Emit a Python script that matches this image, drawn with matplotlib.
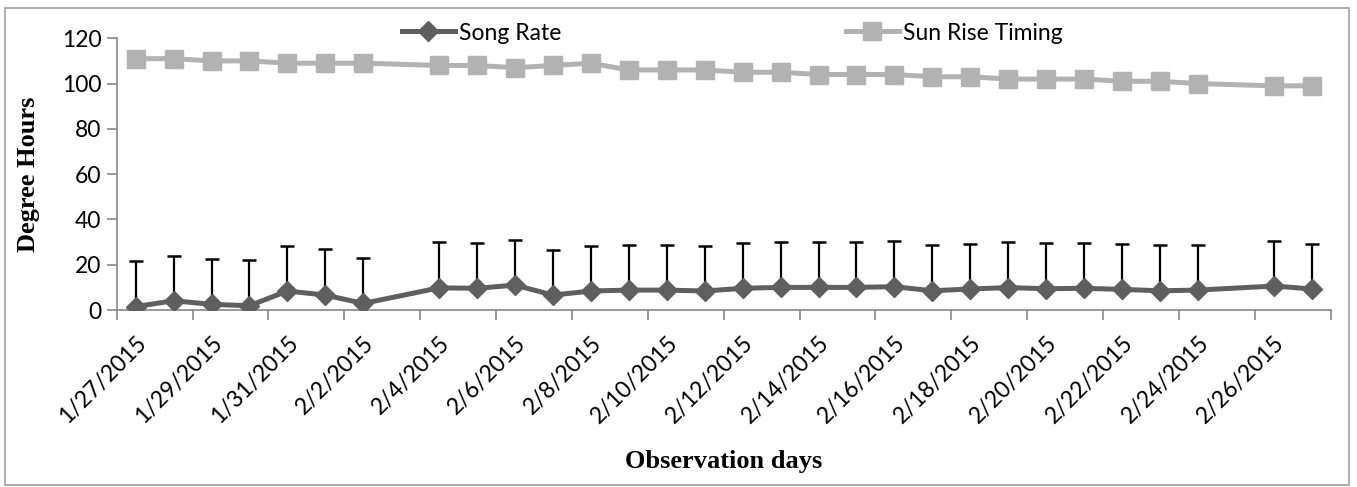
import numpy as np
import pandas as pd
import matplotlib
matplotlib.use("Agg")
import matplotlib.pyplot as plt
import matplotlib.dates as mdates
from matplotlib.patches import Rectangle

# gozlem gunleri (2/3 ve 2/25 yok)
days = ["2015-01-27", "2015-01-28", "2015-01-29", "2015-01-30", "2015-01-31",
        "2015-02-01", "2015-02-02", "2015-02-04", "2015-02-05", "2015-02-06",
        "2015-02-07", "2015-02-08", "2015-02-09", "2015-02-10", "2015-02-11",
        "2015-02-12", "2015-02-13", "2015-02-14", "2015-02-15", "2015-02-16",
        "2015-02-17", "2015-02-18", "2015-02-19", "2015-02-20", "2015-02-21",
        "2015-02-22", "2015-02-23", "2015-02-24", "2015-02-26", "2015-02-27"]
song_rate = [1.5, 4.1, 2.5, 1.9, 8.4, 6.6, 2.9, 9.8, 9.6, 11.0,
             6.6, 8.4, 8.8, 8.8, 8.4, 9.6, 10.0, 10.0, 10.0, 10.3,
             8.5, 9.3, 9.9, 9.4, 9.6, 9.1, 8.5, 8.8, 10.6, 9.3]
song_err = [20.1, 19.7, 19.9, 20.0, 20.0, 20.2, 19.9, 20.1, 20.0, 19.8,
            20.0, 19.7, 19.9, 19.9, 20.0, 20.0, 20.0, 20.0, 20.0, 20.0,
            20.0, 19.8, 20.0, 20.0, 20.0, 20.1, 20.2, 20.0, 19.7, 20.0]
sun_rise = [111, 111, 110, 110, 109, 109, 109, 108, 108, 107,
            108, 109, 106, 106, 106, 105, 105, 104, 104, 104,
            103, 103, 102, 102, 102, 101, 101, 100, 99, 99]
y_ticks = [0, 20, 40, 60, 80, 100, 120]

dates = pd.to_datetime(days)
half = pd.Timedelta(hours=12)

plt.rcParams['font.family'] = ['Lato', 'DejaVu Sans']

fig = plt.figure(figsize=(13.57, 4.87), dpi=100)
ax = fig.add_axes([0.086, 0.3634, 0.8946, 0.558])

axis_gray = "#878787"
song_color = "#5f5f5f"
sun_color = "#b2b2b2"

# hata cubuklari sadece yukari yonde
ax.errorbar(dates, song_rate, yerr=[np.zeros(len(song_err)), song_err], fmt='none',
            ecolor='black', elinewidth=1.6, capsize=5, capthick=1.8, zorder=2)
ax.plot(dates, song_rate, color=song_color, lw=3.6, marker='D', markersize=10,
        label="Song Rate", zorder=3)
ax.plot(dates, sun_rise, color=sun_color, lw=3.6, marker='s', markersize=13.5,
        label="Sun Rise Timing", zorder=3)

ax.set_ylim(0, 120)
ax.set_yticks(y_ticks)
ax.set_xlim(dates[0] - half, dates[-1] + half)

# etiketler her iki gunde bir, tik cizgileri gun sinirlarinda
ax.set_xticks(pd.date_range(dates[0], dates[-1], freq='2D'))
ax.xaxis.set_major_formatter(mdates.DateFormatter('%-m/%-d/%Y'))
ax.set_xticks(pd.date_range(dates[0] - half, dates[-1] + half, freq='2D'), minor=True)
ax.tick_params(axis='x', which='major', length=0, pad=16, labelsize=16.5)
ax.tick_params(axis='x', which='minor', length=7, width=1.2, color=axis_gray, direction='out')
ax.tick_params(axis='y', length=7, width=1.2, color=axis_gray, labelsize=16.5, pad=4)
for lab in ax.get_xticklabels():
    lab.set_rotation(45)
    lab.set_ha('right')
    lab.set_va('top')
    lab.set_rotation_mode('anchor')

for side in ['top', 'right']:
    ax.spines[side].set_visible(False)
for side in ['left', 'bottom']:
    ax.spines[side].set_color(axis_gray)
    ax.spines[side].set_linewidth(1.2)

ax.set_ylabel("Degree Hours", family='Liberation Serif', fontweight='bold', fontsize=19, labelpad=16)
ax.set_xlabel("Observation days", family='Liberation Serif', fontweight='bold', fontsize=19, labelpad=16)

leg = fig.legend(loc='center left', bbox_to_anchor=(402 / 1357, 1 - 33 / 487), ncol=2,
                 frameon=False, fontsize=16.5, handlelength=2.3, handletextpad=0.2,
                 columnspacing=12.4, borderpad=0, borderaxespad=0)

# grafik cercevesi
fig.patches.append(Rectangle((5 / 1357, 1 - 485 / 487), 1344 / 1357, 477 / 487,
                             transform=fig.transFigure, fill=False,
                             edgecolor="#a0a0a0", lw=1.2))

fig.savefig("out.png", dpi=100)
